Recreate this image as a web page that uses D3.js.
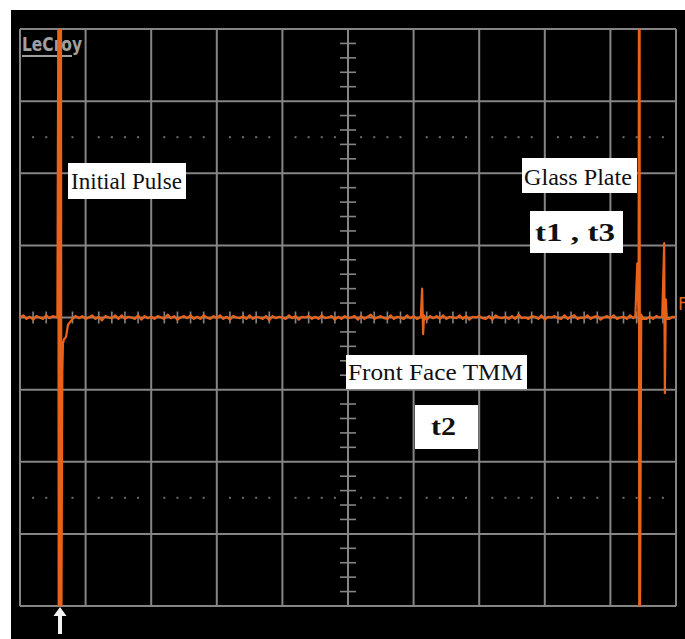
<!DOCTYPE html>
<html>
<head>
<meta charset="utf-8">
<script src="https://cdn.jsdelivr.net/npm/d3@7"></script>
<style>
  html, body { margin: 0; padding: 0; background: #ffffff; }
  svg { display: block; }
  .note { font-family: "Liberation Serif", Tinos, "Noto Serif", "DejaVu Serif", "Nimbus Roman", "Nimbus Roman No9 L", FreeSerif, Times, "Times New Roman", serif; }
</style>
</head>
<body>
<svg id="scope" width="685" height="639"></svg>
<script>
// Screen: 10 horizontal divisions, 8 vertical divisions (centre = 0)
const timeDivs = d3.range(0, 11);
const voltDivs = d3.range(-4, 5);
const dottedRows = [-2.5, 2.5];

// Baseline noise, in hundredths of a division, one sample every 0.05 div
const noise = [
  0, 3, -2, 1, -3, 2, 0, -2, 3, -1,
  2, -2, 4, -2, 0, 1, -3, 2, -1, 2,
  -2, 0, 3, -2, 1, -4, 2, 0, -1, 3,
  -2, 3, -2, 1, 0, -2, 3, -3, 2, -1,
  1, -2, 2, 0, -2, 4, -1, 2, -3, 0,
  2, -1, 3, -2, 1, -2, 3, 0, -2, 2,
  -1, 3, -2, 1, -3, 2, 0, -1, 2, -2,
  3, -2, 1, 0, -2, 2, -4, 2, -1, 1,
  0, -2, 3, -1, 2, -3, 1, 0, 2, -2,
  1, -2, 3, -1, 0, 2, -3, 1, -2, 2,
  -1, 0, 2, -3, 2, -2, 1, 4, -2, 0,
  2, -1, -2, 3, -2, 1, 0, -2, 3, -1,
  2, -2, 1, 0, -3, 2, -1, 2, -2, 3,
  -2, 1, 0, -1, 3, -2, 2, -3, 1, 0,
  2, -1, -2, 2, -3, 3, 0, -1, 1, -2,
  2, -2, 4, -1, 0, -2, 2, 1, -2, 3,
  -3, 1, 0, 2, -1, -2, 3, -2, 1, 3,
  -2, 0, -1, 3, -2, 1, 2, -3, 0, 2,
  -1, 3, -2, 0, 1, -2, 3, -1, 2, -2,
  3, -2, 1, -2, 2, 0, -1, 3, -2, 1,
  0
];

// Echo events: [time div, volts div]
const initialPulse = [
  [0.57, 0.0], [0.585, 4.5], [0.59, -4.5], [0.60, 4.5], [0.605, -4.5],
  [0.61, 4.5], [0.615, -4.5], [0.625, 4.5], [0.63, -4.5],
  [0.645, -0.75], [0.655, -0.36], [0.671, -0.30], [0.701, -0.27], [0.732, -0.10],
  [0.793, -0.03], [0.83, 0.01]
];
const frontFace = [
  [6.11, 0.01], [6.13, 0.40], [6.145, -0.23], [6.16, 0.03], [6.18, -0.01]
];
const glassPlate = [
  [9.38, 0.02], [9.41, 0.75], [9.43, -0.05], [9.435, 4.5], [9.44, -4.5],
  [9.445, 4.5], [9.45, -4.5], [9.47, 0.04], [9.50, -0.02]
];
const glassPlate2 = [
  [9.79, 0.01], [9.82, 1.03], [9.83, -1.05], [9.845, 0.25], [9.86, -0.02]
];

// Annotation boxes
const labels = [
  { text: "Initial Pulse", bold: false },
  { text: "Glass Plate", bold: false },
  { text: "t1 , t3", bold: true },
  { text: "Front Face TMM", bold: false },
  { text: "t2", bold: true }
];

const svg = d3.select("#scope");
const W = 685, H = 639;

const x = d3.scaleLinear().domain([0, 10]).range([20, 676]);
const y = d3.scaleLinear().domain([-4, 4]).range([606, 29]);

const gridColor = "#858585";
const traceColor = "#e8621a";

// Screen background
svg.append("rect").attr("x", 11).attr("y", 10)
  .attr("width", W - 11).attr("height", H - 10).attr("fill", "#000");

// Major grid
const grid = svg.append("g").attr("stroke", gridColor).attr("stroke-width", 2);
grid.selectAll("line.v").data(timeDivs).join("line")
  .attr("x1", d => x(d)).attr("x2", d => x(d))
  .attr("y1", y(4)).attr("y2", y(-4));
grid.selectAll("line.h").data(voltDivs).join("line")
  .attr("x1", x(0)).attr("x2", x(10))
  .attr("y1", d => y(d)).attr("y2", d => y(d));

// Minor ticks along the centre axes (5 per division)
const minorT = d3.range(0, 50).map(i => i / 5).filter(t => t % 1 !== 0);
const minorV = d3.range(-20, 20).map(i => i / 5).filter(v => v % 1 !== 0);
const ticks = svg.append("g").attr("stroke", gridColor).attr("stroke-width", 1.6);
ticks.selectAll("line.mt").data(minorT).join("line")
  .attr("x1", d => x(d)).attr("x2", d => x(d))
  .attr("y1", y(0) - 6).attr("y2", y(0) + 6);
ticks.selectAll("line.mv").data(minorV).join("line")
  .attr("x1", x(5) - 8).attr("x2", x(5) + 8)
  .attr("y1", d => y(d)).attr("y2", d => y(d));

// Dotted rows
const dots = [];
dottedRows.forEach(v => minorT.forEach(t => dots.push([t, v])));
svg.append("g").selectAll("rect").data(dots).join("rect")
  .attr("x", d => x(d[0]) - 1).attr("y", d => y(d[1]) - 1)
  .attr("width", 2).attr("height", 2).attr("fill", "#6e6e6e");

// LeCroy logo
svg.append("text").attr("x", 22).attr("y", 51)
  .attr("font-family", "'Liberation Sans Narrow', 'DejaVu Sans Condensed', sans-serif")
  .attr("font-size", 19).attr("font-weight", "bold")
  .attr("fill", "#a0a0a0")
  .attr("textLength", 60).attr("lengthAdjust", "spacingAndGlyphs")
  .text("LeCroy");
svg.append("rect").attr("x", 22).attr("y", 55).attr("width", 50).attr("height", 2)
  .attr("fill", "#a0a0a0");

// Trace
const events = [initialPulse, frontFace, glassPlate, glassPlate2];
const windows = events.map(e => [e[0][0], e[e.length - 1][0]]);
const samples = noise
  .map((n, i) => [i * 0.05, n / 100])
  .filter(p => !windows.some(w => p[0] >= w[0] - 0.02 && p[0] <= w[1] + 0.02));
const trace = samples.concat(...events).sort((a, b) => a[0] - b[0]);

svg.append("clipPath").attr("id", "screen")
  .append("rect").attr("x", x(0)).attr("y", y(4))
  .attr("width", x(10) - x(0)).attr("height", y(-4) - y(4));

const line = d3.line().x(d => x(d[0])).y(d => y(d[1]));
svg.append("path").datum(trace)
  .attr("clip-path", "url(#screen)")
  .attr("fill", "none").attr("stroke", traceColor)
  .attr("stroke-width", 2.2).attr("stroke-linejoin", "round")
  .attr("d", line);

// Trace marker
svg.append("text").attr("x", 678).attr("y", 310)
  .attr("font-family", "'DejaVu Sans', sans-serif").attr("font-size", 17)
  .attr("fill", traceColor).text("F");

// Trigger arrow
const ax = x(0.61);
svg.append("path")
  .attr("d", `M${ax},607 L${ax + 6.5},616 L${ax + 2},616 L${ax + 2},634 L${ax - 2},634 L${ax - 2},616 L${ax - 6.5},616 Z`)
  .attr("fill", "#f2f2f2");

// Annotation boxes
const boxes = [
  { x: 68, y: 163, w: 118, h: 36, tx: 71, ty: 189, tw: 111, fs: 23 },
  { x: 522, y: 158, w: 115, h: 35, tx: 524, ty: 185, tw: 108, fs: 23 },
  { x: 530, y: 211, w: 93, h: 42, tx: 535, ty: 241, tw: 80, fs: 26 },
  { x: 346, y: 355, w: 181, h: 34, tx: 348, ty: 380, tw: 175, fs: 23 },
  { x: 415, y: 405, w: 63, h: 44, tx: 431, ty: 435, tw: 25, fs: 26 }
];
const ann = svg.append("g").selectAll("g").data(labels).join("g");
ann.append("rect")
  .attr("x", (d, i) => boxes[i].x).attr("y", (d, i) => boxes[i].y)
  .attr("width", (d, i) => boxes[i].w).attr("height", (d, i) => boxes[i].h)
  .attr("fill", "#ffffff");
ann.append("text")
  .attr("class", "note")
  .attr("x", (d, i) => boxes[i].tx).attr("y", (d, i) => boxes[i].ty)
  .attr("font-size", (d, i) => boxes[i].fs)
  .attr("font-weight", d => d.bold ? "bold" : "normal")
  .attr("fill", "#111")
  .attr("textLength", (d, i) => boxes[i].tw)
  .attr("lengthAdjust", "spacingAndGlyphs")
  .text(d => d.text);
</script>
</body>
</html>
